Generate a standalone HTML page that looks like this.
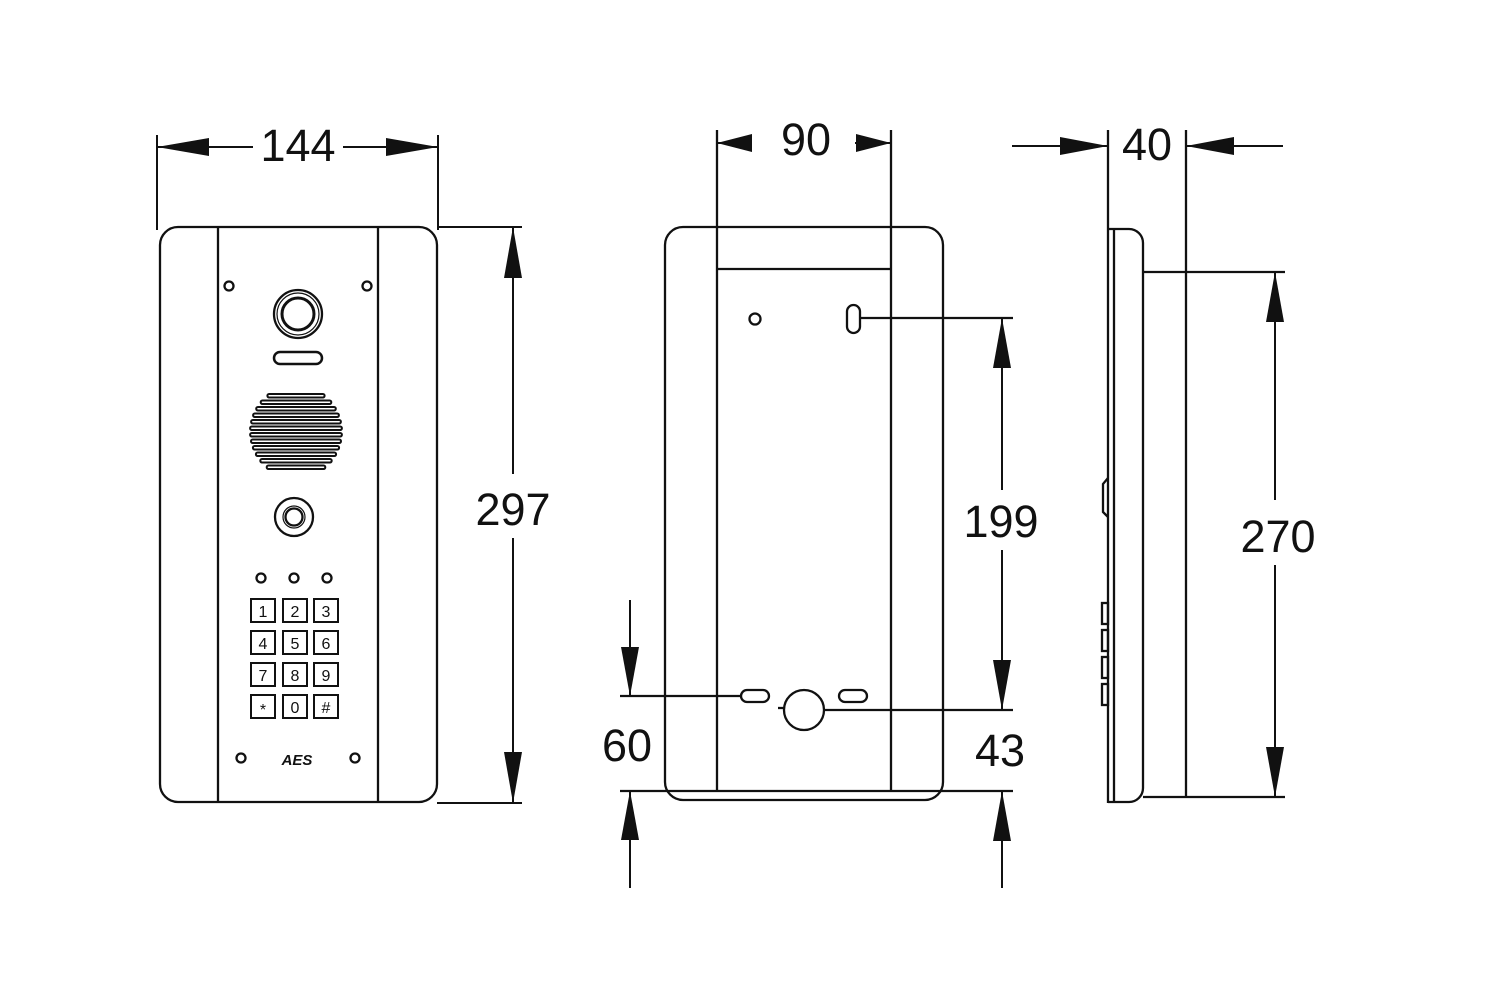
<!DOCTYPE html>
<html><head><meta charset="utf-8"><style>
html,body{margin:0;padding:0;background:#fff;}
svg{display:block;}
text{font-family:"Liberation Sans","DejaVu Sans",sans-serif;fill:#111;}
</style></head><body>
<svg width="1500" height="1000" viewBox="0 0 1500 1000" xmlns="http://www.w3.org/2000/svg">
<g fill="none" stroke="#111" stroke-width="2.3">
<!-- ===== FRONT VIEW ===== -->
<rect x="160" y="227" width="277" height="575" rx="18"/>
<line x1="218" y1="227" x2="218" y2="802"/>
<line x1="378" y1="227" x2="378" y2="802"/>
<circle cx="229" cy="286" r="4.5"/><circle cx="367" cy="286" r="4.5"/>
<circle cx="241" cy="758" r="4.5"/><circle cx="355" cy="758" r="4.5"/>
<circle cx="298" cy="314" r="24"/><circle cx="298" cy="314" r="21" stroke-width="1.2"/><circle cx="298" cy="314" r="16" stroke-width="3"/>
<rect x="274" y="352" width="48" height="12" rx="6" stroke-width="2.5"/>
<g stroke-width="2">
<rect x="267.4" y="394" width="57.2" height="3.5" rx="1.7"/>
<rect x="260.7" y="400.5" width="70.6" height="3.5" rx="1.7"/>
<rect x="256.2" y="407" width="79.6" height="3.5" rx="1.7"/>
<rect x="253.1" y="413.5" width="85.8" height="3.5" rx="1.7"/>
<rect x="251.1" y="420" width="89.8" height="3.5" rx="1.7"/>
<rect x="250.1" y="426.5" width="91.8" height="3.5" rx="1.7"/>
<rect x="250.1" y="433" width="91.8" height="3.5" rx="1.7"/>
<rect x="251" y="439.5" width="90" height="3.5" rx="1.7"/>
<rect x="252.9" y="446" width="86.2" height="3.5" rx="1.7"/>
<rect x="255.9" y="452.5" width="80.2" height="3.5" rx="1.7"/>
<rect x="260.3" y="459" width="71.4" height="3.5" rx="1.7"/>
<rect x="266.7" y="465.5" width="58.6" height="3.5" rx="1.7"/>
</g>
<circle cx="294" cy="517" r="19"/><circle cx="294" cy="517" r="11" stroke-width="1.2"/><circle cx="294" cy="517" r="8.5"/>
<circle cx="261" cy="578" r="4.5"/><circle cx="294" cy="578" r="4.5"/><circle cx="327" cy="578" r="4.5"/>
<g stroke-width="2">
<rect x="251" y="599" width="24" height="23"/><rect x="283" y="599" width="24" height="23"/><rect x="314" y="599" width="24" height="23"/>
<rect x="251" y="631" width="24" height="23"/><rect x="283" y="631" width="24" height="23"/><rect x="314" y="631" width="24" height="23"/>
<rect x="251" y="663" width="24" height="23"/><rect x="283" y="663" width="24" height="23"/><rect x="314" y="663" width="24" height="23"/>
<rect x="251" y="695" width="24" height="23"/><rect x="283" y="695" width="24" height="23"/><rect x="314" y="695" width="24" height="23"/>
</g>
<!-- ===== BACK VIEW ===== -->
<rect x="665" y="227" width="278" height="573" rx="18"/>
<line x1="717" y1="130" x2="717" y2="791"/>
<line x1="891" y1="130" x2="891" y2="791"/>
<line x1="717" y1="269" x2="891" y2="269"/>
<circle cx="755" cy="319" r="5.5"/>
<rect x="847" y="305" width="13" height="28" rx="6.5"/>
<line x1="860" y1="318" x2="1013" y2="318"/>
<rect x="741" y="690" width="28" height="12" rx="6"/>
<rect x="839" y="690" width="28" height="12" rx="6"/>
<circle cx="804" cy="710" r="20"/>
<line x1="778" y1="708" x2="784" y2="708"/>
<line x1="620" y1="696" x2="741" y2="696"/>
<line x1="824" y1="710" x2="1013" y2="710"/>
<line x1="620" y1="791" x2="1013" y2="791"/>
<!-- ===== SIDE VIEW ===== -->
<line x1="1108" y1="130" x2="1108" y2="803"/>
<line x1="1186" y1="130" x2="1186" y2="797"/>
<path d="M1108 229 H1129 A14 14 0 0 1 1143 243 V788 A14 14 0 0 1 1129 802 H1108"/>
<line x1="1114" y1="229" x2="1114" y2="802"/>
<line x1="1143" y1="272" x2="1285" y2="272"/>
<line x1="1143" y1="797" x2="1285" y2="797"/>
<path d="M1108 478 L1103 484 V512 L1108 517"/>
<rect x="1102" y="603" width="6" height="21"/>
<rect x="1102" y="630" width="6" height="21"/>
<rect x="1102" y="657" width="6" height="21"/>
<rect x="1102" y="684" width="6" height="21"/>
<!-- ===== DIMENSIONS ===== -->
<g stroke-width="2">
<line x1="157" y1="135" x2="157" y2="230"/>
<line x1="438" y1="135" x2="438" y2="230"/>
<line x1="157" y1="147" x2="253" y2="147"/>
<line x1="343" y1="147" x2="438" y2="147"/>
<line x1="437" y1="227" x2="522" y2="227"/>
<line x1="437" y1="803" x2="522" y2="803"/>
<line x1="513" y1="227" x2="513" y2="474"/>
<line x1="513" y1="538" x2="513" y2="803"/>
<line x1="750" y1="143" x2="717" y2="143"/>
<line x1="855" y1="143" x2="891" y2="143"/>
<line x1="1012" y1="146" x2="1108" y2="146"/>
<line x1="1186" y1="146" x2="1283" y2="146"/>
<line x1="1275" y1="272" x2="1275" y2="500"/>
<line x1="1275" y1="565" x2="1275" y2="797"/>
<line x1="1002" y1="318" x2="1002" y2="490"/>
<line x1="1002" y1="550" x2="1002" y2="710"/>
<line x1="1002" y1="791" x2="1002" y2="888"/>
<line x1="630" y1="600" x2="630" y2="696"/>
<line x1="630" y1="791" x2="630" y2="888"/>
</g>
</g>
<g fill="#111" stroke="none">
<polygon points="157,147 209,138 209,156"/>
<polygon points="438,147 386,138 386,156"/>
<polygon points="513,227 504,278 522,278"/>
<polygon points="513,803 504,752 522,752"/>
<polygon points="717,143 752,134 752,152"/>
<polygon points="891,143 856,134 856,152"/>
<polygon points="1108,146 1060,137 1060,155"/>
<polygon points="1186,146 1234,137 1234,155"/>
<polygon points="1275,272 1266,322 1284,322"/>
<polygon points="1275,797 1266,747 1284,747"/>
<polygon points="1002,318 993,368 1011,368"/>
<polygon points="1002,710 993,660 1011,660"/>
<polygon points="1002,791 993,841 1011,841"/>
<polygon points="630,696 621,647 639,647"/>
<polygon points="630,791 621,840 639,840"/>
</g>
<g font-size="45" text-anchor="middle">
<text x="298" y="161">144</text>
<text x="806" y="155">90</text>
<text x="1147" y="160">40</text>
<text x="513" y="525">297</text>
<text x="1278" y="552">270</text>
<text x="1001" y="537">199</text>
<text x="627" y="761">60</text>
<text x="1000" y="766">43</text>
</g>
<g font-size="16" text-anchor="middle">
<text x="263" y="617">1</text><text x="295" y="617">2</text><text x="326" y="617">3</text>
<text x="263" y="649">4</text><text x="295" y="649">5</text><text x="326" y="649">6</text>
<text x="263" y="681">7</text><text x="295" y="681">8</text><text x="326" y="681">9</text>
<text x="263" y="715">*</text><text x="295" y="713">0</text><text x="326" y="713">#</text>
</g>
<text x="297" y="765" font-size="15" font-weight="bold" font-style="italic" text-anchor="middle">AES</text>
</svg>
</body></html>
